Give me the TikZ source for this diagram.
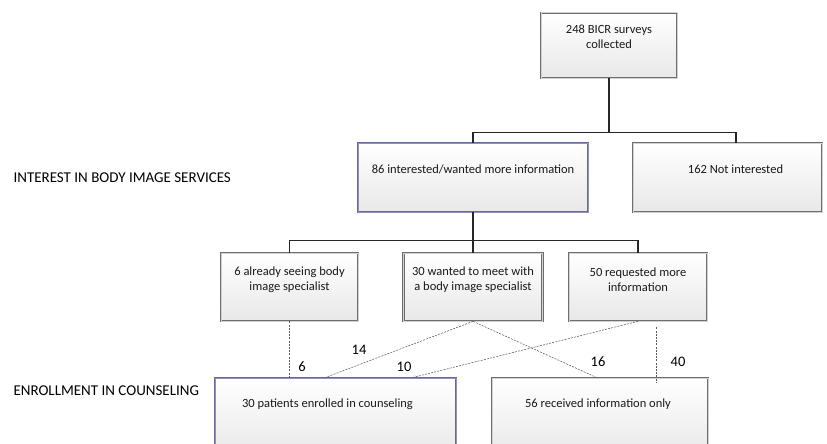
\documentclass[tikz,border=0pt]{standalone}
\usepackage{fontspec}
\setmainfont{Carlito}
\usetikzlibrary{calc}
\definecolor{boxline}{RGB}{110,110,110}
\definecolor{boxblue}{RGB}{140,140,225}
\definecolor{boxfill}{RGB}{232,232,232}

\begin{document}
\begin{tikzpicture}[x=1pt, y=-1pt,
  box/.style={draw=boxline, line width=0.7pt, double=gray!35, double distance=1pt,
    top color=white, bottom color=boxfill, inner sep=0pt},
  bluebox/.style={box, double=boxblue},
  txt/.style={font=\fontsize{12.5}{15}\selectfont, align=center, text=black!90},
  tree/.style={line width=1.1pt, black!85},
  flow/.style={dash pattern=on 2pt off 1.2pt, line width=0.55pt, black!65},
  num/.style={font=\fontsize{14.5}{17}\selectfont, text=black},
  stage/.style={font=\fontsize{15}{18}\selectfont, anchor=west, text=black}
]
\useasboundingbox (0,0) rectangle (827,444);
\clip (0,0) rectangle (827,444);

% boxes
\node[box, minimum width=136pt, minimum height=65pt] (surveys) at (609,45.5) {};
\node[bluebox, minimum width=230pt, minimum height=69pt] (interested) at (473,177.5) {};
\node[box, minimum width=189pt, minimum height=69pt] (notint) at (727.5,177.5) {};
\node[box, minimum width=137pt, minimum height=68pt] (already) at (289.5,287) {};
\node[box, minimum width=139pt, minimum height=68pt] (meet) at (473,287) {};
\node[box, minimum width=138pt, minimum height=68pt] (requested) at (638,287) {};
\node[bluebox, minimum width=241pt, minimum height=80pt] (enrolled) at (335.5,418) {};
\node[box, minimum width=216pt, minimum height=80pt] (infoonly) at (600,418) {};

% box texts
\node[txt] (surveystxt) at ($(surveys.north)+(0,24)$) {248 BICR surveys\\collected};
\node[txt] (interestedtxt) at ($(interested.north)+(0,27)$) {86 interested/wanted more information};
\node[txt] (notinttxt) at ($(notint.north)+(8,27)$) {162 Not interested};
\node[txt] (alreadytxt) at ($(already.north)+(0,27)$) {6 already seeing body\\image specialist};
\node[txt] (meettxt) at ($(meet.north)+(0,27)$) {30 wanted to meet with\\a body image specialist};
\node[txt] (requestedtxt) at ($(requested.north)+(0,27)$) {50 requested more\\information};
\node[txt] (enrolledtxt) at ($(enrolled.north)+(-8,27)$) {30 patients enrolled in counseling};
\node[txt] (infoonlytxt) at ($(infoonly.north)+(-2,27)$) {56 received information only};

% stage labels
\node[stage] (interest) at (10,178) {INTEREST IN BODY IMAGE SERVICES};
\node[stage] (enrollment) at (10,391) {ENROLLMENT IN COUNSELING};

% tree connectors
\coordinate (j1) at ($(surveys.south)+(0,54)$);
\coordinate (nitop) at ($(notint.north)+(8.5,0)$);
\draw[tree] (surveys.south) -- (j1);
\draw[tree] (interested.north) |- (j1) -| (nitop);
\coordinate (j2) at ($(interested.south)+(0,28)$);
\draw[tree] (interested.south) -- (j2) -- (meet.north);
\draw[tree] (already.north) |- (j2) -| (requested.north);

% flows into counseling
\coordinate (e14) at ($(enrolled.north)+(-10.5,0)$);
\coordinate (e10) at ($(enrolled.north)+(76.5,0)$);
\coordinate (i16) at ($(infoonly.north)+(-3,0)$);
\coordinate (r40) at ($(requested.south)+(18,6)$);
\coordinate (i40) at ($(infoonly.north)+(56,5)$);
\draw[flow] (already.south) -- (already.south |- enrolled.north);
\draw[flow] (meet.south) -- (e14);
\draw[flow] (meet.south) -- (i16);
\draw[flow] (requested.south) -- (e10);
\draw[flow] (r40) -- (i40);

\node[num] (n6) at (302,367) {6};
\node[num] (n14) at (359,350) {14};
\node[num] (n10) at (404,367) {10};
\node[num] (n16) at (598,362) {16};
\node[num] (n40) at (678,362) {40};
\end{tikzpicture}
\end{document}
